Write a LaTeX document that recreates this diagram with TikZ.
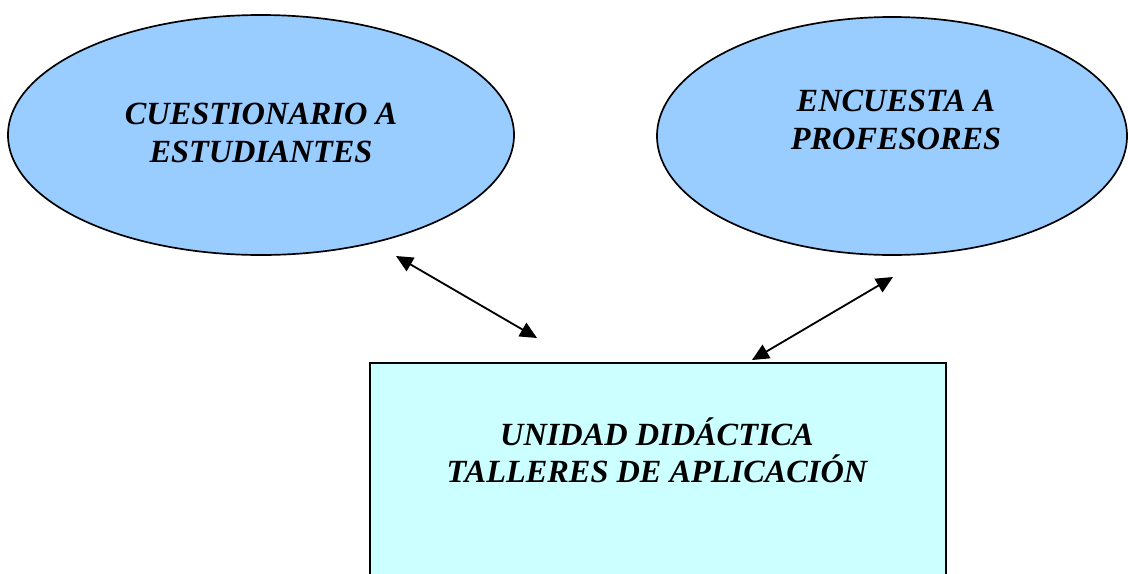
\documentclass[tikz,border=0pt]{standalone}
\usepackage{fontspec}
\setmainfont{Liberation Serif}
\usetikzlibrary{shapes.geometric,arrows.meta}

\definecolor{ovalblue}{RGB}{153,204,255}
\definecolor{boxcyan}{RGB}{204,255,255}
\tikzset{
  oval/.style={ellipse,draw=black,line width=1.2pt,fill=ovalblue,inner sep=0pt},
  caja/.style={rectangle,draw=black,line width=1.2pt,fill=boxcyan,inner sep=0pt},
  rotulo/.style={align=center,font=\fontsize{23}{26.5}\selectfont\bfseries\itshape},
  flecha/.style={line width=1.3pt,{Triangle[length=12pt,width=11pt]}-{Triangle[length=12pt,width=11pt]}}
}

\begin{document}
\begin{tikzpicture}[x=0.025cm,y=-0.025cm]
  \useasboundingbox (0,0) rectangle (1128,573);
  \clip (0,0) rectangle (1128,573);
  % the two surveys
  \node[oval,minimum width=506*0.025cm,minimum height=240*0.025cm] (estud) at (261,135) {};
  \node[oval,minimum width=470*0.025cm,minimum height=238*0.025cm] (profes) at (892,136) {};
  \node[rotulo] (testud) at (261,133) {CUESTIONARIO A\\ESTUDIANTES};
  \node[rotulo] (tprofes) at (896,120) {ENCUESTA A\\PROFESORES};
  % the didactic unit, cut by the page bottom
  \node[caja,minimum width=576*0.025cm,minimum height=260*0.025cm,anchor=north west] (unidad) at (369,362) {};
  \node[rotulo] (tunidad) at (657,450) {UNIDAD DIDÁCTICA\\TALLERES DE APLICACIÓN};
  % connectors
  \coordinate (a1) at (396,256);
  \coordinate (a2) at (537,338);
  \coordinate (b1) at (752,360);
  \coordinate (b2) at (893,277);
  \draw[flecha] (a1) -- (a2);
  \draw[flecha] (b1) -- (b2);
\end{tikzpicture}
\end{document}
